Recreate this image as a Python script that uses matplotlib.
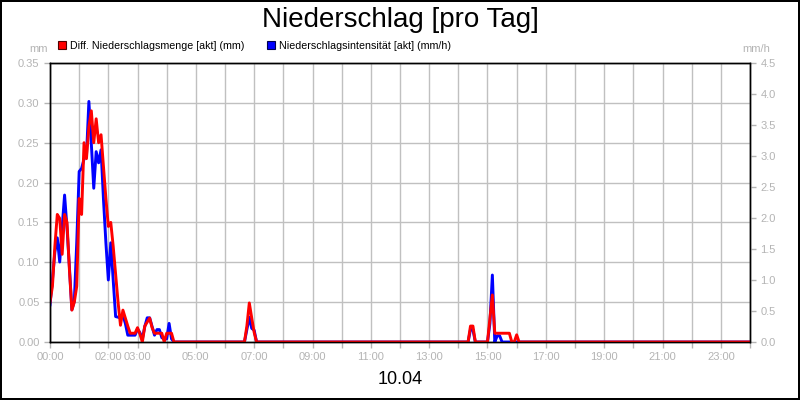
import matplotlib
matplotlib.use("Agg")
import matplotlib.pyplot as plt
from matplotlib.patches import Patch

plt.rcParams['font.family'] = ['Liberation Sans', 'DejaVu Sans']

# 5-min samples, day 10.04
times = [
    "00:00", "00:05", "00:10", "00:15", "00:20", "00:25", "00:30", "00:35", "00:40", "00:45",
    "00:50", "00:55", "01:00", "01:05", "01:10", "01:15", "01:20", "01:25", "01:30", "01:35",
    "01:40", "01:45", "01:50", "01:55", "02:00", "02:05", "02:10", "02:15", "02:20", "02:25",
    "02:30", "02:35", "02:40", "02:45", "02:50", "02:55", "03:00", "03:05", "03:10", "03:15",
    "03:20", "03:25", "03:30", "03:35", "03:40", "03:45", "03:50", "03:55", "04:00", "04:05",
    "04:10", "04:15",
    "06:40", "06:45", "06:50", "06:55", "07:00", "07:05",
    "14:20", "14:25", "14:30", "14:35",
    "15:00", "15:05", "15:10", "15:15", "15:20", "15:25", "15:30", "15:35", "15:40", "15:45",
    "15:50", "15:55", "16:00", "16:05",
    "24:00",
]

menge_mm = [
    0.05, 0.07, 0.12, 0.16, 0.155, 0.11, 0.16, 0.15, 0.09, 0.04,
    0.05, 0.07, 0.18, 0.16, 0.25, 0.23, 0.27, 0.29, 0.25, 0.28,
    0.25, 0.26, 0.22, 0.18, 0.145, 0.15, 0.12, 0.085, 0.05, 0.021,
    0.04, 0.03, 0.02, 0.011, 0.011, 0.011, 0.018, 0.01, 0.0, 0.02,
    0.025, 0.03, 0.018, 0.011, 0.011, 0.011, 0.011, 0.0, 0.011, 0.011,
    0.011, 0.0,
    0.0, 0.02, 0.049, 0.03, 0.012, 0.0,
    0.0, 0.02, 0.02, 0.0,
    0.0, 0.03, 0.059, 0.011, 0.011, 0.011, 0.011, 0.011, 0.011, 0.011,
    0.0, 0.0, 0.009, 0.0,
    0.0,
]

intens_mmh = [
    0.6, 1.0, 1.45, 1.68, 1.29, 1.85, 2.37, 1.84, 1.2, 0.52,
    0.66, 1.6, 2.75, 2.8, 2.95, 3.0, 3.88, 3.2, 2.48, 3.07,
    2.89, 3.1, 2.3, 1.6, 1.0, 1.6, 1.0, 0.41, 0.4, 0.39,
    0.43, 0.3, 0.11, 0.11, 0.11, 0.11, 0.21, 0.15, 0.05, 0.25,
    0.39, 0.39, 0.25, 0.11, 0.2, 0.2, 0.07, 0.05, 0.05, 0.3,
    0.05, 0.0,
    0.0, 0.2, 0.40, 0.22, 0.19, 0.0,
    0.0, 0.2, 0.2, 0.0,
    0.0, 0.3, 1.08, 0.0, 0.1, 0.1, 0.0, 0.0, 0.0, 0.0,
    0.0, 0.0, 0.0, 0.0,
    0.0,
]

hour_labels = {0: "00:00", 2: "02:00", 3: "03:00", 5: "05:00", 7: "07:00", 9: "09:00",
               11: "11:00", 13: "13:00", 15: "15:00", 17: "17:00", 19: "19:00",
               21: "21:00", 23: "23:00"}

hours = [int(s[:2]) + int(s[3:]) / 60 for s in times]

grey = '#b4b4b4'

fig = plt.figure(figsize=(8, 4), dpi=100, linewidth=1.5, edgecolor='black')
ax = fig.add_axes([0.0625, 0.145, 0.875, 0.6975])
ax2 = ax.twinx()

ax.set_xlim(0, 24)
ax.set_ylim(0, 0.35)
ax2.set_ylim(0, 4.5)

ax.set_xticks(range(25))
ax.set_xticklabels([hour_labels.get(h, "") for h in range(25)])
ax.set_yticks([i * 0.05 for i in range(8)])
ax.set_yticklabels([f"{i * 0.05:.2f}" for i in range(8)])
ax2.set_yticks([i * 0.5 for i in range(10)])
ax2.set_yticklabels([f"{i * 0.5:.1f}" for i in range(10)])

ax.grid(True, color='#c0c0c0', linewidth=1)
ax.set_axisbelow(True)

for a in (ax, ax2):
    a.tick_params(colors=grey, labelcolor=grey, labelsize=8, length=4, width=1)
    for sp in a.spines.values():
        sp.set_color('black')
        sp.set_linewidth(1)
ax.tick_params(axis='x', pad=3)

# blue on the twin axis, red on top of it but in left-axis units
ax2.plot(hours, intens_mmh, color='#0000ff', linewidth=2.1)
ax2.plot(hours, menge_mm, color='#ff0000', linewidth=2.1, transform=ax.transData)
ax2.set_ylim(0, 4.5)

fig.text(0.5, 0.95, "Niederschlag [pro Tag]", ha='center', va='center', fontsize=20)
fig.text(0.06, 0.878, "mm", ha='right', va='center', fontsize=8, color=grey)
fig.text(0.928, 0.878, "mm/h", ha='left', va='center', fontsize=8, color=grey)
fig.text(0.5, 0.05, "10.04", ha='center', va='center', fontsize=13)

handles = [Patch(facecolor='#ff0000', edgecolor='#500000', linewidth=0.8),
           Patch(facecolor='#0000ff', edgecolor='#000050', linewidth=0.8)]
fig.legend(handles, ["Diff. Niederschlagsmenge [akt] (mm)",
                     "Niederschlagsintensität [akt] (mm/h)"],
           loc='center left', bbox_to_anchor=(0.072, 0.886), ncol=2, frameon=False,
           fontsize=7.7, handlelength=0.8, handleheight=0.8, handletextpad=0.35,
           columnspacing=2.1, borderaxespad=0, borderpad=0)

fig.savefig("out.png", dpi=100)
